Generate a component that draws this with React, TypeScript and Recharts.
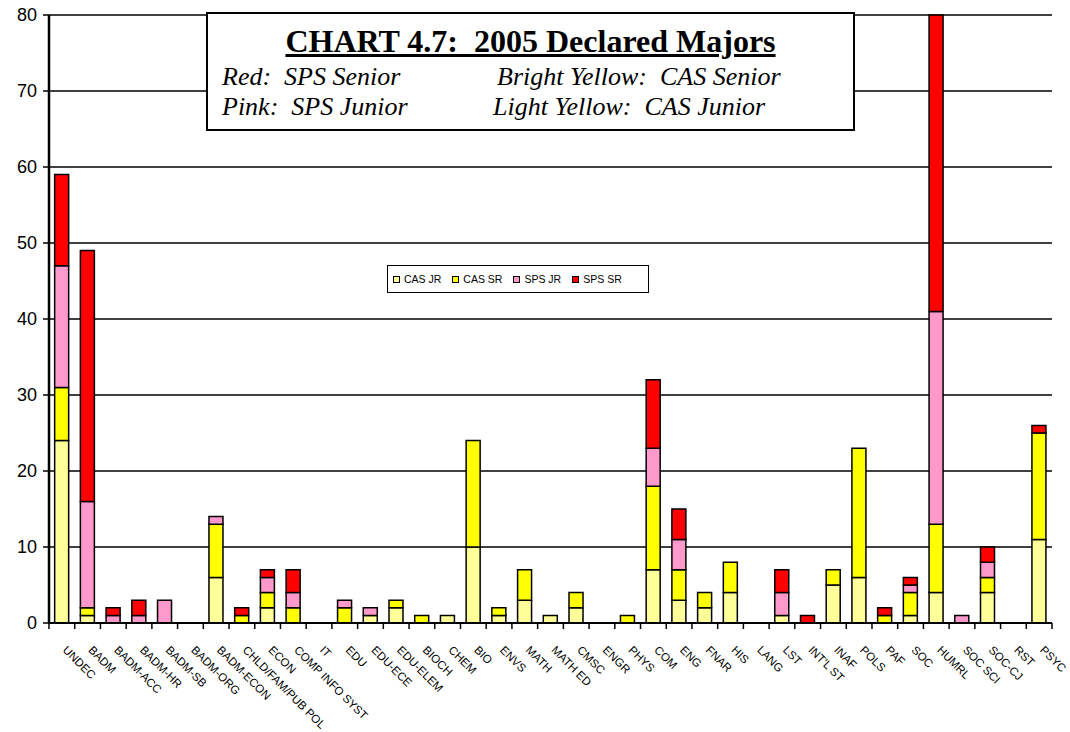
import React from 'react';
import { BarChart, Bar, XAxis, YAxis, CartesianGrid } from 'recharts';

const categories = [
  'UNDEC', 'BADM', 'BADM-ACC', 'BADM-HR', 'BADM-SB', 'BADM-ORG', 'BADM-ECON',
  'CHLD/FAM/PUB POL', 'ECON', 'COMP INFO SYST', 'IT', 'EDU', 'EDU-ECE', 'EDU-ELEM',
  'BIOCH', 'CHEM', 'BIO', 'ENVS', 'MATH', 'MATH ED', 'CMSC', 'ENGR', 'PHYS', 'COM',
  'ENG', 'FNAR', 'HIS', 'LANG', 'LST', "INT'L ST", 'INAF', 'POLS', 'PAF', 'SOC',
  'HUMRL', 'SOC SCI', 'SOC-CJ', 'RST', 'PSYC',
];

const casJr = [24, 1, 0, 0, 0, 0, 6, 0, 2, 0, 0, 0, 1, 2, 0, 1, 10, 1, 3, 1, 2, 0, 0, 7, 3, 2, 4, 0, 1, 0, 5, 6, 0, 1, 4, 0, 4, 0, 11];
const casSr = [7, 1, 0, 0, 0, 0, 7, 1, 2, 2, 0, 2, 0, 1, 1, 0, 14, 1, 4, 0, 2, 0, 1, 11, 4, 2, 4, 0, 0, 0, 2, 17, 1, 3, 9, 0, 2, 0, 14];
const spsJr = [16, 14, 1, 1, 3, 0, 1, 0, 2, 2, 0, 1, 1, 0, 0, 0, 0, 0, 0, 0, 0, 0, 0, 5, 4, 0, 0, 0, 3, 0, 0, 0, 0, 1, 28, 1, 2, 0, 0];
const spsSr = [12, 33, 1, 2, 0, 0, 0, 1, 1, 3, 0, 0, 0, 0, 0, 0, 0, 0, 0, 0, 0, 0, 0, 9, 4, 0, 0, 0, 3, 1, 0, 0, 1, 1, 39, 0, 2, 0, 1];

const yTicks = [0, 10, 20, 30, 40, 50, 60, 70, 80];

const series = [
  { key: 'casJr', name: 'CAS JR', color: '#FFFF99' },
  { key: 'casSr', name: 'CAS SR', color: '#FFFF00' },
  { key: 'spsJr', name: 'SPS JR', color: '#FF99CC' },
  { key: 'spsSr', name: 'SPS SR', color: '#FF0000' },
];

const data = categories.map((name, i) => ({
  name,
  casJr: casJr[i],
  casSr: casSr[i],
  spsJr: spsJr[i],
  spsSr: spsSr[i],
}));

const W = 1070;
const H = 732;
const PLOT_LEFT = 49;
const PLOT_RIGHT = 1052;
const STEP = (PLOT_RIGHT - PLOT_LEFT) / categories.length;
const sans = "Arial, 'Liberation Sans', sans-serif";
const serif = "'Liberation Serif', 'Times New Roman', serif";

const XTick = (props: any) => {
  const { x, y, payload, index } = props;
  return (
    <g transform={`translate(${x},${y})`}>
      <line x1={-STEP / 2} x2={-STEP / 2} y1={0} y2={6} stroke="#000" strokeWidth={1.5} />
      {index === categories.length - 1 && (
        <line x1={STEP / 2} x2={STEP / 2} y1={0} y2={6} stroke="#000" strokeWidth={1.5} />
      )}
      <text
        transform="translate(3,25) rotate(45)"
        textAnchor="start"
        dominantBaseline="central"
        fontSize={11.5}
        fontFamily={sans}
        fill="#000"
      >
        {payload.value}
      </text>
    </g>
  );
};

// legend drawn as an overlay box, like the original's floating legend
const LegendBox = () => (
  <div
    style={{
      position: 'absolute',
      left: 387,
      top: 265,
      width: 262,
      height: 28,
      border: '1.5px solid #000',
      background: '#fff',
      boxSizing: 'border-box',
      display: 'flex',
      alignItems: 'center',
      paddingLeft: 5,
      fontFamily: sans,
      fontSize: 10.5,
      color: '#000',
    }}
  >
    {series.map(s => (
      <span key={s.key} style={{ display: 'flex', alignItems: 'center', marginRight: 11 }}>
        <span
          style={{
            display: 'inline-block',
            width: 5,
            height: 5,
            background: s.color,
            border: '1.5px solid #000',
            marginRight: 4,
          }}
        />
        {s.name}
      </span>
    ))}
  </div>
);

const subStyle: React.CSSProperties = {
  position: 'absolute',
  fontStyle: 'italic',
  fontSize: 26,
  whiteSpace: 'pre',
  lineHeight: '30px',
};

export default function App() {
  return (
    <div style={{ position: 'absolute', left: 0, top: 0, width: W, height: H, background: '#fff' }}>
      <BarChart
        width={W}
        height={H}
        data={data}
        margin={{ top: 15, right: W - PLOT_RIGHT, left: 0, bottom: 9 }}
        barCategoryGap="22%"
      >
        <CartesianGrid vertical={false} stroke="#000" strokeWidth={1.5} />
        <XAxis
          dataKey="name"
          interval={0}
          height={100}
          tickSize={0}
          tickMargin={0}
          tickLine={false}
          tick={<XTick />}
          axisLine={{ stroke: '#000', strokeWidth: 2 }}
        />
        <YAxis
          width={PLOT_LEFT}
          domain={[0, 80]}
          ticks={yTicks}
          interval={0}
          tickSize={6}
          tickMargin={6}
          tickLine={{ stroke: '#000', strokeWidth: 1.5 }}
          axisLine={{ stroke: '#000', strokeWidth: 2.5 }}
          tick={{ fill: '#000', fontSize: 18, fontFamily: sans }}
        />
        <YAxis
          yAxisId="frame"
          orientation="right"
          width={0}
          domain={[0, 80]}
          tick={false}
          tickLine={false}
          axisLine={{ stroke: '#555', strokeWidth: 1.5 }}
        />
        {series.map(s => (
          <Bar
            key={s.key}
            dataKey={s.key}
            name={s.name}
            stackId="a"
            fill={s.color}
            stroke="#000"
            strokeWidth={1.5}
            isAnimationActive={false}
          />
        ))}
      </BarChart>

      <LegendBox />

      <div
        style={{
          position: 'absolute',
          left: 206,
          top: 12,
          width: 649,
          height: 119,
          boxSizing: 'border-box',
          border: '2px solid #000',
          background: '#fff',
          fontFamily: serif,
          color: '#000',
        }}
      >
        <div
          style={{
            position: 'absolute',
            left: 0,
            right: 0,
            top: 8,
            textAlign: 'center',
            fontWeight: 'bold',
            fontSize: 32,
            textDecoration: 'underline',
            whiteSpace: 'pre',
            lineHeight: '38px',
          }}
        >
          {'CHART 4.7:  2005 Declared Majors'}
        </div>
        <div style={{ ...subStyle, left: 14, top: 48 }}>{'Red:  SPS Senior'}</div>
        <div style={{ ...subStyle, left: 289, top: 48 }}>{'Bright Yellow:  CAS Senior'}</div>
        <div style={{ ...subStyle, left: 14, top: 78 }}>{'Pink:  SPS Junior'}</div>
        <div style={{ ...subStyle, left: 285, top: 78 }}>{'Light Yellow:  CAS Junior'}</div>
      </div>
    </div>
  );
}
